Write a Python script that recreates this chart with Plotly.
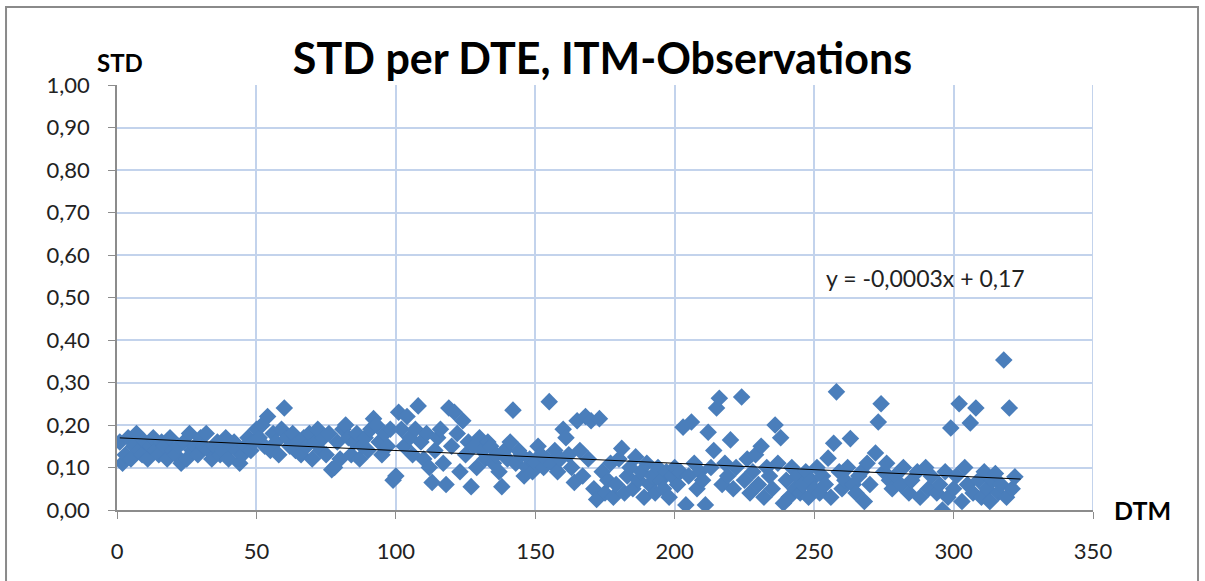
import plotly.graph_objects as go

# ---- data ----
dte_a = list(range(1, 51))
std_a = [0.16, 0.11, 0.13, 0.17, 0.12, 0.15, 0.18, 0.14, 0.13, 0.16,
         0.12, 0.15, 0.17, 0.14, 0.13, 0.16, 0.15, 0.12, 0.17, 0.14,
         0.13, 0.15, 0.11, 0.16, 0.12, 0.18, 0.14, 0.15, 0.13, 0.17,
         0.15, 0.18, 0.14, 0.12, 0.15, 0.16, 0.13, 0.14, 0.17, 0.12,
         0.15, 0.16, 0.14, 0.11, 0.13, 0.15, 0.17, 0.14, 0.16, 0.19]

dte_b = list(range(51, 101))
std_b = [0.17, 0.20, 0.15, 0.22, 0.14, 0.18, 0.16, 0.13, 0.19, 0.24,
         0.17, 0.15, 0.18, 0.14, 0.16, 0.13, 0.17, 0.15, 0.18, 0.12,
         0.16, 0.19, 0.14, 0.17, 0.13, 0.18, 0.095, 0.10, 0.16, 0.12,
         0.19, 0.20, 0.17, 0.13, 0.16, 0.18, 0.12, 0.15, 0.17, 0.14,
         0.19, 0.215, 0.20, 0.16, 0.13, 0.18, 0.15, 0.19, 0.07, 0.08]

dte_c = list(range(101, 151))
std_c = [0.23, 0.19, 0.15, 0.22, 0.17, 0.13, 0.19, 0.245, 0.16, 0.12,
         0.18, 0.10, 0.065, 0.14, 0.17, 0.19, 0.11, 0.06, 0.24, 0.15,
         0.23, 0.18, 0.09, 0.21, 0.13, 0.16, 0.055, 0.15, 0.10, 0.17,
         0.14, 0.12, 0.16, 0.15, 0.11, 0.13, 0.09, 0.055, 0.14, 0.12,
         0.16, 0.235, 0.11, 0.14, 0.13, 0.08, 0.10, 0.12, 0.09, 0.11]

dte_d = list(range(151, 201))
std_d = [0.15, 0.13, 0.10, 0.12, 0.255, 0.11, 0.14, 0.09, 0.12, 0.19,
         0.17, 0.13, 0.10, 0.065, 0.21, 0.14, 0.08, 0.22, 0.12, 0.21,
         0.05, 0.025, 0.215, 0.09, 0.04, 0.07, 0.11, 0.03, 0.06, 0.12,
         0.145, 0.04, 0.08, 0.10, 0.05, 0.125, 0.07, 0.09, 0.03, 0.11,
         0.06, 0.08, 0.04, 0.10, 0.07, 0.05, 0.09, 0.03, 0.08, 0.10]

dte_e = [201, 202, 203, 204, 205, 206, 207, 208, 209, 210,
         211, 212, 213, 214, 215, 216, 217, 218, 219, 220,
         221, 222, 224, 225, 226, 227, 228, 229, 230, 231,
         232, 233, 234, 235, 236, 237, 238, 239, 240, 241,
         242, 243, 244, 245, 246, 247, 248, 249, 250, 251,
         252, 253, 254, 255, 256, 257, 258, 259, 260]
std_e = [0.06, 0.09, 0.195, 0.012, 0.08, 0.207, 0.11, 0.05, 0.09, 0.07,
         0.012, 0.183, 0.10, 0.14, 0.24, 0.263, 0.06, 0.11, 0.08, 0.165,
         0.05, 0.10, 0.266, 0.07, 0.12, 0.04, 0.09, 0.13, 0.06, 0.15,
         0.03, 0.10, 0.08, 0.05, 0.20, 0.11, 0.17, 0.016, 0.07, 0.03,
         0.10, 0.05, 0.08, 0.04, 0.06, 0.09, 0.03, 0.07, 0.05, 0.10,
         0.04, 0.08, 0.06, 0.122, 0.03, 0.157, 0.278, 0.09, 0.05]

dte_f = [261, 262, 263, 264, 265, 266, 267, 268, 269, 270,
         272, 273, 274, 275, 276, 277, 278, 279, 281, 282,
         284, 285, 287, 288, 290, 291, 292, 294, 295, 296,
         297, 298, 299, 300, 301, 302, 303, 304, 305, 306,
         307, 308, 309, 310, 311, 312, 313, 314, 315, 316,
         317, 318, 319, 320, 321, 322]
std_f = [0.07, 0.10, 0.168, 0.06, 0.04, 0.08, 0.09, 0.02, 0.11, 0.06,
         0.134, 0.207, 0.25, 0.09, 0.11, 0.07, 0.05, 0.08, 0.06, 0.10,
         0.04, 0.07, 0.09, 0.03, 0.10, 0.05, 0.08, 0.04, 0.06, 0.00,
         0.09, 0.03, 0.193, 0.05, 0.08, 0.25, 0.02, 0.10, 0.06, 0.205,
         0.04, 0.24, 0.07, 0.03, 0.09, 0.05, 0.02, 0.07, 0.086, 0.04,
         0.06, 0.353, 0.03, 0.24, 0.05, 0.078]

dte = dte_a + dte_b + dte_c + dte_d + dte_e + dte_f
std = std_a + std_b + std_c + std_d + std_e + std_f

trend_slope = -0.0003
trend_intercept = 0.17
trend_x = [1, 324]
trend_y = [trend_intercept + trend_slope * v for v in trend_x]

y_ticks = [0.0, 0.1, 0.2, 0.3, 0.4, 0.5, 0.6, 0.7, 0.8, 0.9, 1.0]
y_tick_labels = ["0,00", "0,10", "0,20", "0,30", "0,40", "0,50",
                 "0,60", "0,70", "0,80", "0,90", "1,00"]
x_ticks = [0, 50, 100, 150, 200, 250, 300, 350]

FONT = "Lato, 'Open Sans', sans-serif"
GRID = "#C3D3EC"
AXIS = "#8C8C8C"

fig = go.Figure()
fig.add_trace(go.Scatter(
    x=dte, y=std, mode="markers",
    marker=dict(symbol="diamond", size=13.5, color="#4A7EBB", line=dict(width=0)),
    showlegend=False, hoverinfo="x+y"))
fig.add_trace(go.Scatter(
    x=trend_x, y=trend_y, mode="lines",
    line=dict(color="black", width=1), showlegend=False, hoverinfo="skip"))

fig.update_layout(
    width=1205, height=581,
    margin=dict(l=117, r=112, t=85, b=71),
    paper_bgcolor="white", plot_bgcolor="white",
    font=dict(family=FONT, size=21, color="#222"),
    title=dict(text="<b>STD per DTE, ITM-Observations</b>",
               font=dict(family=FONT, size=43, color="black"),
               x=0.5, xanchor="center", y=0.898, yanchor="middle"),
    xaxis=dict(range=[0, 350], tickvals=x_ticks, showgrid=True, gridcolor=GRID,
               gridwidth=2, showline=True, linecolor=AXIS, linewidth=1.5,
               ticks="outside", ticklen=7, tickcolor=AXIS, zeroline=False,
               ticklabelstandoff=14,
               tickfont=dict(family=FONT, size=22, color="#222")),
    yaxis=dict(range=[0, 1], tickvals=y_ticks, ticktext=y_tick_labels,
               showgrid=True, gridcolor=GRID, gridwidth=2, showline=True,
               linecolor=AXIS, linewidth=1.5, ticks="outside", ticklen=7,
               tickcolor=AXIS, zeroline=False, ticklabelstandoff=14,
               tickfont=dict(family=FONT, size=22, color="#222")),
)

fig.add_shape(type="line", xref="x", yref="paper", x0=350, x1=350, y0=0, y1=1,
              line=dict(color=GRID, width=2))

fig.add_annotation(text="<b>STD</b>", xref="paper", yref="paper",
                   x=-0.0225, y=1.054, xanchor="left", yanchor="middle",
                   showarrow=False, font=dict(family=FONT, size=24, color="black"))
fig.add_annotation(text="<b>DTM</b>", xref="paper", yref="paper",
                   x=1.0195, y=0.0, xanchor="left", yanchor="middle",
                   showarrow=False, font=dict(family=FONT, size=25, color="black"))
fig.add_annotation(text="y = -0,0003x + 0,17", xref="x", yref="y",
                   x=290, y=0.546, xanchor="center", yanchor="middle",
                   showarrow=False, font=dict(family=FONT, size=23, color="#222"))

# outer chart frame
fig.add_shape(type="rect", xref="paper", yref="paper",
              x0=-0.1137, x1=1.1076, y0=-0.2, y1=1.1835,
              line=dict(color="#8A8A8A", width=2), fillcolor="rgba(0,0,0,0)",
              layer="below")

fig.write_html("out.html",
               config={"displayModeBar": False},
               post_script="document.body.style.margin='0';")
